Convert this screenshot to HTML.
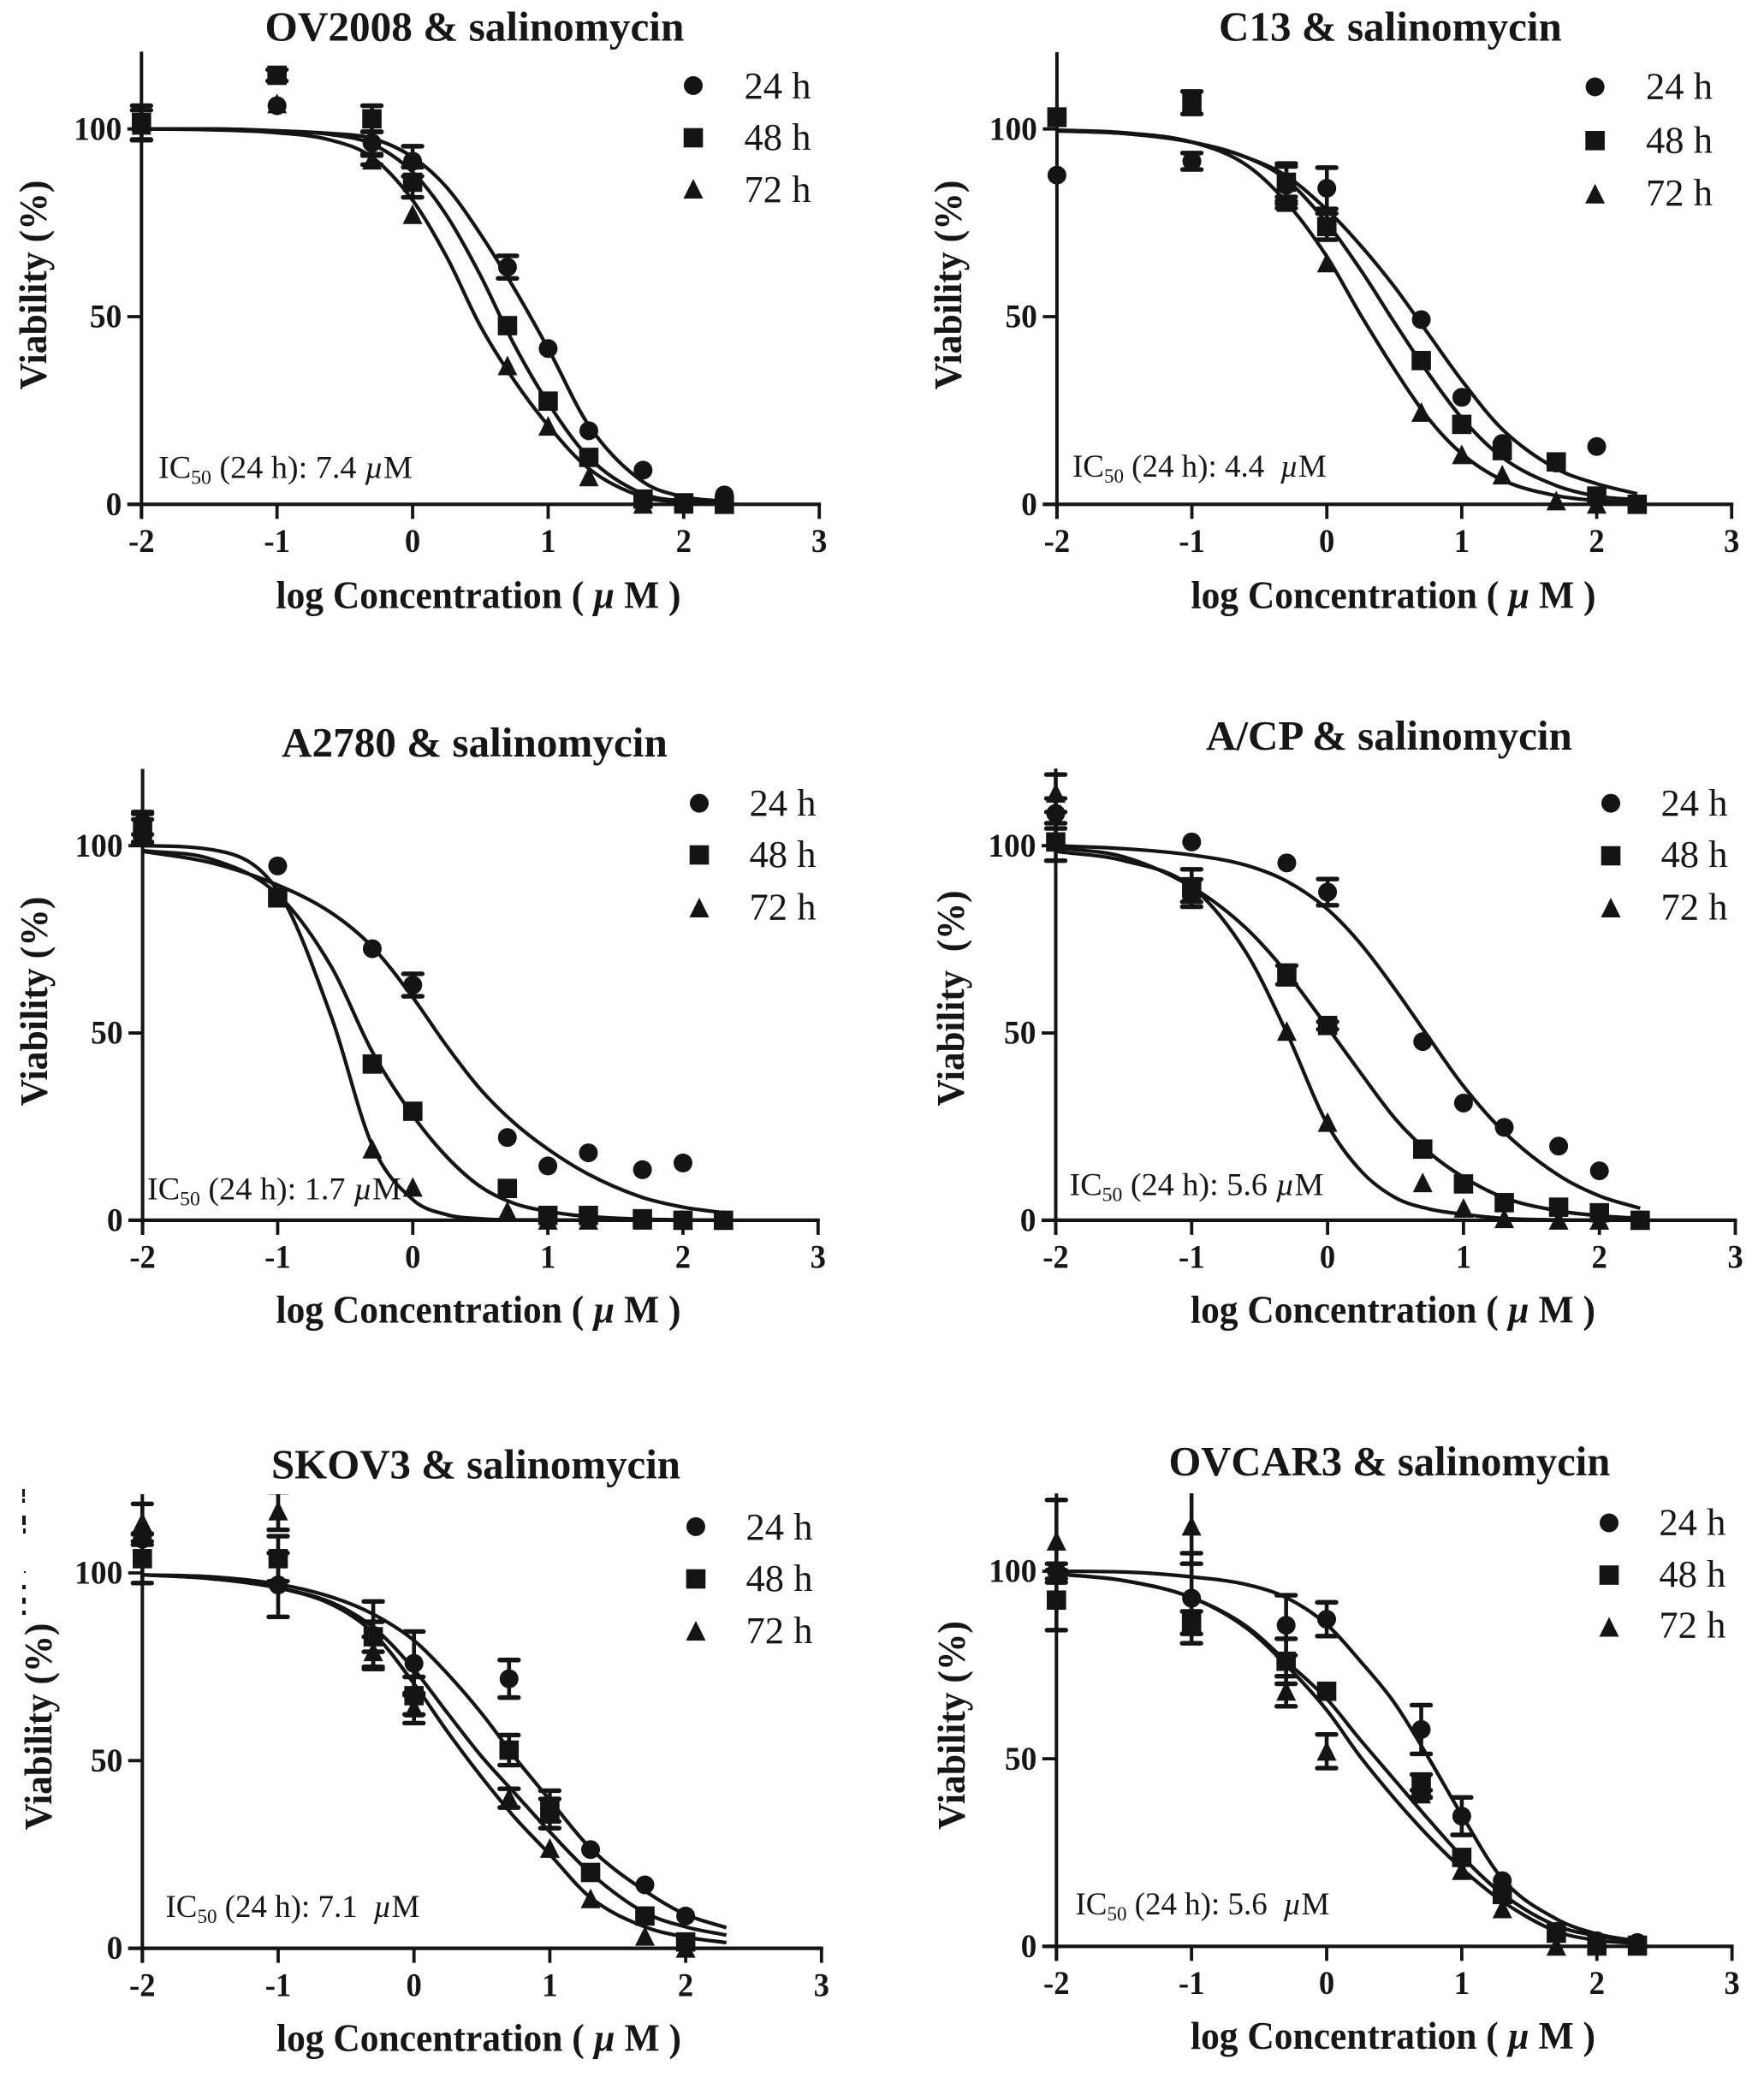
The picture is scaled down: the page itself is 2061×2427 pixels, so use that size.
<!DOCTYPE html>
<html lang="en">
<head>
<meta charset="utf-8">
<title>Salinomycin dose-response curves</title>
<style>
html,body{margin:0;padding:0;background:#fff;}
svg{display:block;}
text{font-family:"Liberation Serif",serif;fill:#161616;white-space:pre;}
</style>
</head>
<body>
<svg id="figure" xmlns="http://www.w3.org/2000/svg" width="2061" height="2427" viewBox="0 0 2061 2427">
<rect x="0" y="0" width="2061" height="2427" fill="#ffffff"/>
<g fill="#161616">
<rect x="26" y="1740" width="3" height="9"/><rect x="26" y="1751" width="3" height="5"/><rect x="26" y="1771" width="4" height="11"/><rect x="27" y="1786" width="3" height="6"/>
<rect x="28" y="1836" width="2" height="2"/><rect x="26" y="1852" width="4" height="5"/><rect x="26" y="1867" width="4" height="7"/><rect x="26" y="1882" width="4" height="5"/>
</g>
</svg>
<script>
// Shared axes and concentrations
const concentrations = [-2, -1, -0.3, 0, 0.7, 1, 1.3, 1.7, 2, 2.3];
const curveX = [-2, -1.5, -1, -0.6, -0.3, 0, 0.25, 0.5, 0.75, 1, 1.3, 1.7, 2, 2.3];
const xTickValues = [-2, -1, 0, 1, 2, 3];
const yTickValues = [0, 50, 100];
const seriesNames = ['24 h', '48 h', '72 h'];

// OV2008
const ov2008Points24 = [101, 106.2, 96.3, 91.4, 63.2, 41.5, 19.6, 9.1, 0, 2.5];
const ov2008Points48 = [101.7, 114.3, 102.7, 85.8, 47.6, 27.5, 12.5, 1.4, 0.4, 0];
const ov2008Points72 = [101, 106.7, 91.7, 77.2, 36.9, 20.8, 7.3, 0, 0, 0];
const ov2008Err24 = [4, 0, 3, 4, 3, 0, 0, 0, 0, 0];
const ov2008Err48 = [4.5, 1.5, 3.5, 4, 0, 0, 0, 0, 0, 0];
const ov2008Err72 = [0, 0, 1.2, 0, 0, 0, 0, 0, 0, 0];
const ov2008Curve24 = [100, 100, 99.5, 98.8, 97.5, 92.5, 84.5, 72, 57.5, 41.5, 21, 6, 2, 0.8];
const ov2008Curve48 = [100, 100, 99.5, 98.5, 96, 88.5, 77, 61, 42.5, 27, 12.5, 2.8, 0.9, 0.3];
const ov2008Curve72 = [100, 99.8, 99, 97, 92.5, 81, 66, 47.5, 33, 21, 9.5, 2, 0.6, 0.2];

// C13
const c13Points24 = [87.7, 91.4, 85, 84.2, 49.2, 28.5, 16.2, 11, 15.4, 0];
const c13Points48 = [103.2, 107, 85.8, 74, 38.3, 21.3, 14.3, 11.3, 2.2, 0];
const c13Points72 = [103, 107, 80.4, 64.3, 24.5, 13.2, 7.8, 0.9, 0, 0];
const c13Err24 = [0, 2.2, 5, 5.5, 0, 0, 0, 0, 0, 0];
const c13Err48 = [0, 3, 5, 3.5, 0, 0, 0, 0, 0, 0];
const c13Err72 = [0, 0, 1.5, 0, 0, 0, 0, 0, 0, 0];
const c13Curve24 = [99.5, 98.8, 96.5, 92.5, 87.5, 78.5, 69, 58, 45.5, 33, 20, 9.5, 5.5, 2.8];
const c13Curve48 = [99.5, 98.8, 96.5, 92.5, 86.5, 75, 62.5, 48.5, 35, 23, 12.5, 5, 2.2, 1.2];
const c13Curve72 = [99.7, 99, 96.5, 90.5, 80.5, 66, 50.5, 36, 23, 13.5, 6.5, 2.3, 1, 0.4];

// A2780
const a2780Points24 = [106, 94.6, 72.5, 62.8, 22.1, 14.5, 18, 13.5, 15.3, 0];
const a2780Points48 = [104.5, 86.3, 41.7, 29.1, 8.5, 1.3, 1.3, 0.4, 0, 0];
const a2780Points72 = [104, 86, 19, 8.8, 2.4, 0, 0, 0, 0, 0];
const a2780Err24 = [3, 0, 0, 3, 0, 0, 0, 0, 0, 0];
const a2780Err48 = [4, 0, 0, 0, 0, 0, 0, 0, 0, 0];
const a2780Err72 = [3, 0, 0, 0, 0, 0, 0, 0, 0, 0];
const a2780Curve24 = [98.5, 95.5, 89.5, 82, 73, 59.5, 46.6, 35, 26, 19, 12.3, 6.1, 3.5, 2];
const a2780Curve48 = [98.7, 96.5, 87, 67.5, 45, 28, 17, 9, 4.5, 2.4, 1, 0.3, 0.1, 0];
const a2780Curve72 = [100, 99, 88, 54, 20, 5.5, 1.5, 0.4, 0.1, 0.1, 0, 0, 0, 0];

// A/CP
const acpPoints24 = [108.6, 101, 95.4, 87.6, 47.7, 31.3, 24.8, 19.8, 13.2, 0];
const acpPoints48 = [101, 88.7, 65.5, 52, 19, 9.7, 4.7, 3.5, 2, 0];
const acpPoints72 = [114, 88, 50.4, 26.1, 10, 3.2, 0.4, 0, 0, 0];
const acpErr24 = [4, 0, 0, 3.5, 0, 0, 0, 0, 0, 0];
const acpErr48 = [5, 5, 2.5, 1, 0, 0, 0, 0, 0, 0];
const acpErr72 = [5, 3, 0, 0, 0, 0, 0, 0, 0, 0];
const acpCurve24 = [100, 99.2, 97.5, 94.8, 90.5, 83, 73.5, 61.5, 48.5, 35.8, 23.5, 12, 6.5, 3.2];
const acpCurve48 = [99.5, 97, 89, 78, 66, 51.5, 39, 27, 18, 11.5, 6, 2.5, 1.2, 0.5];
const acpCurve72 = [98.5, 96, 89, 71.5, 50, 25.5, 13, 6, 3, 1.6, 0.5, 0.1, 0, 0];

// SKOV3
const skov3Points24 = [109, 96.8, 83.4, 75.9, 71.8, 37, 26.3, 16.9, 8.6, null];
const skov3Points48 = [103.8, 103.8, 83, 67.3, 52.8, 36.8, 20.2, 8.6, 1.7, null];
const skov3Points72 = [113.4, 116.5, 79, 64, 40, 26.6, 13.2, 3.2, 0, null];
const skov3Err24 = [1.5, 8.5, 9, 8.5, 5, 5, 0, 0, 0, 0];
const skov3Err48 = [6.5, 6, 4, 5, 4, 3, 0, 0, 0, 0];
const skov3Err72 = [5, 5, 4, 4, 2.5, 0, 0, 0, 0, 0];
const skov3Curve24 = [99.5, 99, 97, 93.5, 89, 82, 73, 62.5, 50.5, 39.5, 26.6, 15.3, 9, 5.5];
const skov3Curve48 = [99.5, 98.5, 96, 92, 85.5, 74.3, 62.5, 51, 41, 31, 20, 9.5, 5.7, 3.5];
const skov3Curve72 = [99.5, 98.5, 96, 91.5, 84, 70.5, 57.5, 45.5, 34.5, 25, 13.5, 5.7, 3, 1.5];

// OVCAR3
const ovcar3Points24 = [100, 92.8, 85.6, 87.2, 57.8, 34.7, 17.5, 4, 1.5, 1];
const ovcar3Points48 = [92.3, 86.3, 76, 68, 42.8, 23.7, 13.8, 3.5, 0.3, 0.3];
const ovcar3Points72 = [108, 112, 68, 52, 40.6, 20.2, 10, 0, 0, 0];
const ovcar3Err24 = [2, 12, 8, 4.5, 6.5, 5, 0, 0, 0, 0];
const ovcar3Err48 = [8, 3, 6, 0, 3, 0, 0, 0, 0, 0];
const ovcar3Err72 = [11, 10, 4, 4.5, 1, 0, 0, 0, 0, 0];
const ovcar3Curve24 = [100, 99.8, 98.5, 96.5, 93, 85.8, 76, 65, 50.5, 35, 18, 7.3, 3.3, 1.4];
const ovcar3Curve48 = [99.3, 97.5, 93, 85.5, 76, 66, 55, 44.5, 34, 24, 14, 5.5, 2.8, 1.2];
const ovcar3Curve72 = [99.3, 97.5, 93, 85, 75, 63, 50.5, 39.5, 29.5, 20.7, 12, 4, 1.6, 0.8];

const NS = 'http://www.w3.org/2000/svg';
const INK = '#141414';
const figure = document.getElementById('figure');

const panels = [
  {id:'ov2008', title:'OV2008 & salinomycin', ic:'7.4 ', ylab:'Viability (%)',
   x0:165.3, x3:957.2, y0:589.3, y100:150.7, top:60.4,
   titleX:554.5, titleY:47.5, titleW:490, xlabX:559, xlabY:710.7, ylabX:54, ylabY:333, ylabW:245,
   legM:810, legT:869.5, legY:[100,161,221], legB:[115,175,236], icX:185, icY:558.3,
   pts:[ov2008Points24,ov2008Points48,ov2008Points72], err:[ov2008Err24,ov2008Err48,ov2008Err72], cur:[ov2008Curve24,ov2008Curve48,ov2008Curve72]},
  {id:'c13', title:'C13 & salinomycin', ic:'4.4  ', ylab:'Viability (%)',
   x0:1234.9, x3:2023.2, y0:589.3, y100:150.7, top:61,
   titleX:1624.5, titleY:47.5, titleW:401, xlabX:1628, xlabY:710.7, ylabX:1123, ylabY:333, ylabW:245,
   legM:1863.6, legT:1923, legY:[101.5,164.3,226.7], legB:[115.7,178.5,240], icX:1253, icY:557.2,
   pts:[c13Points24,c13Points48,c13Points72], err:[c13Err24,c13Err48,c13Err72], cur:[c13Curve24,c13Curve48,c13Curve72]},
  {id:'a2780', title:'A2780 & salinomycin', ic:'1.7 ', ylab:'Viability (%)',
   x0:166.6, x3:955.8, y0:1425.9, y100:988.2, top:898.5,
   titleX:554.5, titleY:884, titleW:451, xlabX:559, xlabY:1545.4, ylabX:55, ylabY:1170, ylabW:245,
   legM:817, legT:875.5, legY:[938.6,999,1061], legB:[952.8,1013.2,1074.6], icX:172, icY:1401.4,
   pts:[a2780Points24,a2780Points48,a2780Points72], err:[a2780Err24,a2780Err48,a2780Err72], cur:[a2780Curve24,a2780Curve48,a2780Curve72]},
  {id:'acp', title:'A/CP & salinomycin', ic:'5.6 ', ylab:'Viability  (%)',
   x0:1233.5, x3:2027.5, y0:1425.9, y100:988.2, top:898,
   titleX:1623, titleY:876, titleW:428, xlabX:1627.5, xlabY:1545.4, ylabX:1126, ylabY:1166.5, ylabW:252,
   legM:1882, legT:1940.5, legY:[938.6,1000,1061], legB:[952.8,1013.2,1074.6], icX:1249.5, icY:1396.6,
   pts:[acpPoints24,acpPoints48,acpPoints72], err:[acpErr24,acpErr48,acpErr72], cur:[acpCurve24,acpCurve48,acpCurve72]},
  {id:'skov3', title:'SKOV3 & salinomycin', ic:'7.1  ', ylab:'Viability (%)',
   x0:166.3, x3:959.8, y0:2276.6, y100:1838, top:1746,
   titleX:556, titleY:1727.5, titleW:478, xlabX:559.5, xlabY:2396.6, ylabX:60, ylabY:2017.5, ylabW:242,
   legM:813, legT:871.5, legY:[1783.9,1845,1906], legB:[1799,1859,1920], icX:193.5, icY:2240.2,
   pts:[skov3Points24,skov3Points48,skov3Points72], err:[skov3Err24,skov3Err48,skov3Err72], cur:[skov3Curve24,skov3Curve48,skov3Curve72]},
  {id:'ovcar3', title:'OVCAR3 & salinomycin', ic:'5.6  ', ylab:'Viability (%)',
   x0:1234.3, x3:2023.6, y0:2274.3, y100:1836, top:1745,
   titleX:1623.5, titleY:1724, titleW:516, xlabX:1627.5, xlabY:2394, ylabX:1127, ylabY:2016, ylabW:244,
   legM:1880, legT:1938.4, legY:[1779.5,1840.5,1901.5], legB:[1793.5,1854,1913.5], icX:1256.5, icY:2237,
   pts:[ovcar3Points24,ovcar3Points48,ovcar3Points72], err:[ovcar3Err24,ovcar3Err48,ovcar3Err72], cur:[ovcar3Curve24,ovcar3Curve48,ovcar3Curve72]}
];

function make(tag, attrs, parent) {
  const el = document.createElementNS(NS, tag);
  for (const k in attrs) el.setAttribute(k, attrs[k]);
  parent.appendChild(el);
  return el;
}
function span(parent, str, attrs) {
  const t = document.createElementNS(NS, 'tspan');
  for (const k in (attrs || {})) t.setAttribute(k, attrs[k]);
  t.textContent = str;
  parent.appendChild(t);
  return t;
}
// Fit a text element to a measured width, centred or left aligned.
function fit(el, x, y, width, centred, rotated) {
  const natural = el.getComputedTextLength();
  const sx = width / natural;
  const shift = centred ? -width / 2 : 0;
  if (rotated) {
    el.setAttribute('transform', 'translate(' + x + ',' + y + ') rotate(-90) translate(' + shift + ',0) scale(' + sx + ',1)');
  } else {
    el.setAttribute('transform', 'translate(' + (x + shift) + ',' + y + ') scale(' + sx + ',1)');
  }
}
// Monotone cubic path through points
function monotonePath(xs, ys) {
  const n = xs.length, d = [], m = [];
  for (let i = 0; i < n - 1; i++) d.push((ys[i + 1] - ys[i]) / (xs[i + 1] - xs[i]));
  m[0] = d[0];
  m[n - 1] = d[n - 2];
  for (let i = 1; i < n - 1; i++) {
    m[i] = d[i - 1] * d[i] <= 0 ? 0 : (d[i - 1] + d[i]) / 2;
  }
  for (let i = 0; i < n - 1; i++) {
    if (d[i] === 0) { m[i] = 0; m[i + 1] = 0; continue; }
    const a = m[i] / d[i], b = m[i + 1] / d[i], s = a * a + b * b;
    if (s > 9) { const t = 3 / Math.sqrt(s); m[i] = t * a * d[i]; m[i + 1] = t * b * d[i]; }
  }
  let p = 'M' + xs[0].toFixed(1) + ' ' + ys[0].toFixed(1);
  for (let i = 0; i < n - 1; i++) {
    const h = (xs[i + 1] - xs[i]) / 3;
    p += 'C' + (xs[i] + h).toFixed(1) + ' ' + (ys[i] + m[i] * h).toFixed(1) + ' ' +
      (xs[i + 1] - h).toFixed(1) + ' ' + (ys[i + 1] - m[i + 1] * h).toFixed(1) + ' ' +
      xs[i + 1].toFixed(1) + ' ' + ys[i + 1].toFixed(1);
  }
  return p;
}
function marker(kind, cx, cy, parent) {
  if (kind === 0) return make('ellipse', {cx: cx, cy: cy, rx: 11, ry: 11, fill: INK}, parent);
  if (kind === 1) return make('rect', {x: cx - 11.3, y: cy - 11.3, width: 22.6, height: 22.6, fill: INK}, parent);
  return make('polygon', {points: cx + ',' + (cy - 12) + ' ' + (cx + 11.5) + ',' + (cy + 11) + ' ' + (cx - 11.5) + ',' + (cy + 11), fill: INK}, parent);
}

const defs = make('defs', {}, figure);

panels.forEach(function (p) {
  const sx = function (v) { return p.x0 + (v + 2) * (p.x3 - p.x0) / 5; };
  const sy = function (v) { return p.y0 - v / 100 * (p.y0 - p.y100); };

  const clip = make('clipPath', {id: 'clip-' + p.id}, defs);
  make('rect', {x: p.x0 - 40, y: p.top, width: p.x3 - p.x0 + 80, height: p.y0 - p.top + 40}, clip);

  const g = make('g', {}, figure);
  
  

  // Title
  const title = make('text', {'font-size': 49, 'font-weight': 'bold'}, g);
  title.textContent = p.title;
  
  
  fit(title, p.titleX, p.titleY, p.titleW, true, false);

  // Y axis
  const yAxis = make('line', {x1: p.x0, x2: p.x0, y1: p.top, y2: p.y0 + 17, stroke: INK, 'stroke-width': 4}, g);
  
  

  // X axis
  const xAxis = make('line', {x1: p.x0 - 16.5, x2: p.x3 + 2, y1: p.y0, y2: p.y0, stroke: INK, 'stroke-width': 4.2}, g);
  
  

  xTickValues.forEach(function (v) {
    const tick = make('line', {x1: sx(v), x2: sx(v), y1: p.y0, y2: p.y0 + 17, stroke: INK, 'stroke-width': 3.8}, g);
    
    
    const lab = make('text', {'font-size': 39, 'font-weight': 'bold'}, g);
    lab.textContent = String(v);
    
    
    const w = lab.getComputedTextLength() * 0.94;
    fit(lab, sx(v), p.y0 + 55.7, w, true, false);
  });

  yTickValues.forEach(function (v) {
    const tick = make('line', {x1: p.x0 - 16.5, x2: p.x0, y1: sy(v), y2: sy(v), stroke: INK, 'stroke-width': 3.8}, g);
    
    
    const lab = make('text', {'font-size': 39, 'font-weight': 'bold'}, g);
    lab.textContent = String(v);
    
    
    const w = lab.getComputedTextLength() * 0.96;
    fit(lab, p.x0 - 23 - w, sy(v) + 12.6, w, false, false);
  });

  // Axis titles
  const xlab = make('text', {'font-size': 46, 'font-weight': 'bold'}, g);
  span(xlab, 'log Concentration ( ');
  span(xlab, '\u00b5', {'font-style': 'italic'});
  span(xlab, ' M )');
  
  
  fit(xlab, p.xlabX, p.xlabY, 473, true, false);

  const ylab = make('text', {'font-size': 46, 'font-weight': 'bold'}, g);
  ylab.textContent = p.ylab;
  
  
  fit(ylab, p.ylabX, p.ylabY, p.ylabW, true, true);

  // IC50 annotation
  const ic = make('text', {'font-size': 37}, g);
  span(ic, 'IC');
  span(ic, '50', {'font-size': 23, dy: 7});
  span(ic, ' (24 h): ' + p.ic, {dy: -7});
  span(ic, '\u00b5', {'font-style': 'italic'});
  span(ic, 'M');
  
  
  fit(ic, p.icX, p.icY, 297, false, false);

  // Series
  seriesNames.forEach(function (name, s) {
    const sg = make('g', {'clip-path': 'url(#clip-' + p.id + ')'}, g);
    
    

    const curve = make('path', {d: monotonePath(curveX.map(sx), p.cur[s].map(sy)), fill: 'none', stroke: INK, 'stroke-width': 4.2}, sg);
    
    

    concentrations.forEach(function (c, i) {
      const v = p.pts[s][i];
      if (v === null) return;
      const e = p.err[s][i];
      const cx = sx(c);
      if (e > 0) {
        const stem = make('path', {d: 'M' + cx + ' ' + sy(v + e) + 'V' + sy(v - e), fill: 'none', stroke: INK, 'stroke-width': 4.6}, sg);
        
        
        const caps = make('path', {
          d: 'M' + (cx - 11) + ' ' + sy(v + e) + 'H' + (cx + 11) +
             'M' + (cx - 11) + ' ' + sy(v - e) + 'H' + (cx + 11),
          fill: 'none', stroke: INK, 'stroke-width': 5.4, 'stroke-linecap': 'round'}, sg);
        
        
      }
      const m = marker(s, cx, sy(v), sg);
      
      
    });

    // Legend
    const lm = marker(s, p.legM, p.legY[s], g);
    
    
    const lt = make('text', {'font-size': 44}, g);
    lt.textContent = name;
    
    
    fit(lt, p.legT, p.legB[s], 78, false, false);
  });
});
</script>
</body>
</html>
